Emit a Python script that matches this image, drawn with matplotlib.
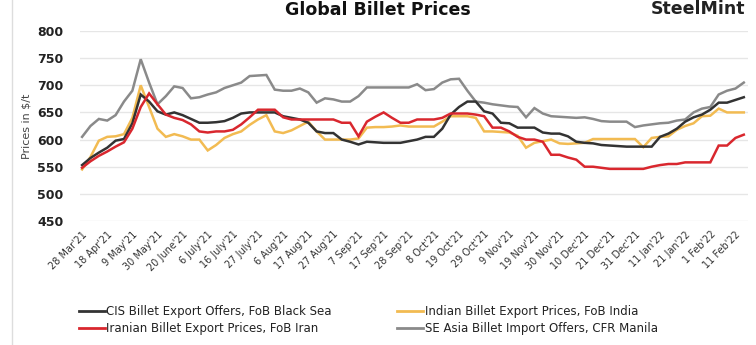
import matplotlib.pyplot as plt
from matplotlib.lines import Line2D

tick_labels = ["28 Mar'21", "18 Apr'21", "9 May'21", "30 May'21", "20 June'21", "6 July'21",
               "16 July'21", "27 July'21", "6 Aug'21", "17 Aug'21", "27 Aug'21", "7 Sep'21",
               "17 Sep'21", "28 Sep'21", "8 Oct'21", "19 Oct'21", "29 Oct'21", "9 Nov'21",
               "19 Nov'21", "30 Nov'21", "10 Dec'21", "21 Dec'21", "31 Dec'21", "11 Jan'22",
               "21 Jan'22", "1 Feb'22", "11 Feb'22"]

cis = [553, 566, 576, 585, 598, 601, 630, 683, 670, 652,
       646, 650, 645, 638, 631, 631, 632, 634, 640, 648,
       650, 650, 650, 650, 643, 640, 637, 631, 615, 612,
       612, 600, 596, 591, 596, 595, 594, 594, 594, 597,
       600, 605, 605, 620, 646, 660, 670, 670, 652, 648,
       631, 630, 622, 622, 622, 613, 611, 611, 606, 596,
       594, 593, 590, 589, 588, 587, 587, 587, 587, 605,
       611, 620, 633, 641, 646, 655, 668, 668, 673, 678]

india = [545, 568, 598, 605, 606, 610, 640, 700, 660, 620,
         605, 610, 606, 600, 600, 580, 590, 603, 610, 615,
         627, 637, 645, 615, 612, 617, 625, 633, 615, 600,
         600, 600, 600, 602, 622, 623, 623, 624, 626, 624,
         624, 624, 624, 633, 643, 643, 643, 640, 615, 615,
         614, 613, 607, 585, 594, 597, 600, 593, 592, 593,
         594, 601, 601, 601, 601, 601, 601, 586, 603, 605,
         606, 618, 625, 630, 643, 644, 657, 650, 650, 650]

iran = [548, 560, 570, 578, 587, 595, 620, 660, 685, 665,
        646, 640, 636, 628, 615, 613, 615, 615, 618, 628,
        641, 655, 655, 655, 641, 637, 637, 637, 637, 637,
        637, 631, 631, 606, 633, 642, 650, 640, 631, 631,
        637, 637, 637, 640, 648, 648, 648, 646, 643, 622,
        622, 615, 605, 600, 600, 596, 572, 572, 567, 563,
        550, 550, 548, 546, 546, 546, 546, 546, 550, 553,
        555, 555, 558, 558, 558, 558, 589, 589, 603, 609]

manila = [605, 625, 638, 635, 645, 670, 690, 748, 705, 665,
          680, 698, 695, 676, 678, 683, 687, 695, 700, 705,
          717, 718, 719, 692, 690, 690, 694, 687, 668, 676,
          674, 670, 670, 680, 696, 696, 696, 696, 696, 696,
          702, 691, 693, 705, 711, 712, 690, 670, 668, 665,
          663, 661, 660, 641, 658, 648, 643, 642, 641, 640,
          641, 638, 634, 633, 633, 633, 623, 626, 628, 630,
          631, 635, 637, 650, 657, 660, 683, 690, 694, 705]

series = [
    ('CIS Billet Export Offers, FoB Black Sea', cis, '#333333'),
    ('Indian Billet Export Prices, FoB India', india, '#f2bb52'),
    ('Iranian Billet Export Prices, FoB Iran', iran, '#d9272e'),
    ('SE Asia Billet Import Offers, CFR Manila', manila, '#8a8a8a'),
]

fig = plt.figure(figsize=(7.56, 3.45), dpi=100)
ax = fig.add_axes([80 / 756, 1 - 221 / 345, 668 / 756, 190 / 345])

x = list(range(len(cis)))
# grey first so the other lines sit on top of it
for name, vals, col in [series[3], series[1], series[0], series[2]]:
    ax.plot(x, vals, color=col, linewidth=1.8, solid_joinstyle='miter')

ax.set_ylim(450, 800)
ax.set_xlim(-0.25, 79.5)
ax.set_yticks(range(450, 801, 50))
ax.set_yticklabels([str(v) for v in range(450, 801, 50)], fontsize=9, fontweight='bold', color='#222222')
ax.set_xticks(range(0, 3 * len(tick_labels), 3))
ax.set_xticklabels(tick_labels, rotation=45, ha='right', rotation_mode='anchor',
                   fontsize=7, color='#333333')
ax.tick_params(length=0, axis='both')
ax.tick_params(axis='y', pad=12)
ax.tick_params(axis='x', pad=6)
ax.grid(axis='y', color='#e6e6e6', linewidth=1)
ax.set_axisbelow(True)
for s in ax.spines.values():
    s.set_visible(False)

ax.set_ylabel('Prices in $/t', fontsize=8, color='#444444', labelpad=4)

fig.text(0.5, 1 - 15 / 345, 'Global Billet Prices', ha='center', va='baseline',
         fontsize=12.5, fontweight='bold', color='#111111')
fig.text(745 / 756, 1 - 14 / 345, 'SteelMint', ha='right', va='baseline',
         fontsize=12.5, fontweight='bold', color='#222222')

# thin frame line on the left edge
fig.add_artist(Line2D([12 / 756, 12 / 756], [0, 1], color='#dddddd', linewidth=1))

handles = [Line2D([0], [0], color=col, linewidth=2) for _, _, col in series]
labels = [name for name, _, _ in series]
order = [0, 2, 1, 3]
leg = fig.legend([handles[i] for i in order], [labels[i] for i in order],
                 ncol=2, loc='upper left', bbox_to_anchor=(74 / 756, 1 - 300 / 345),
                 frameon=False, fontsize=8.5, handlelength=2.2, handletextpad=0.15,
                 columnspacing=5.5, labelspacing=0.35, borderaxespad=0)
for t in leg.get_texts():
    t.set_color('#222222')

fig.savefig('out.png', dpi=100)
